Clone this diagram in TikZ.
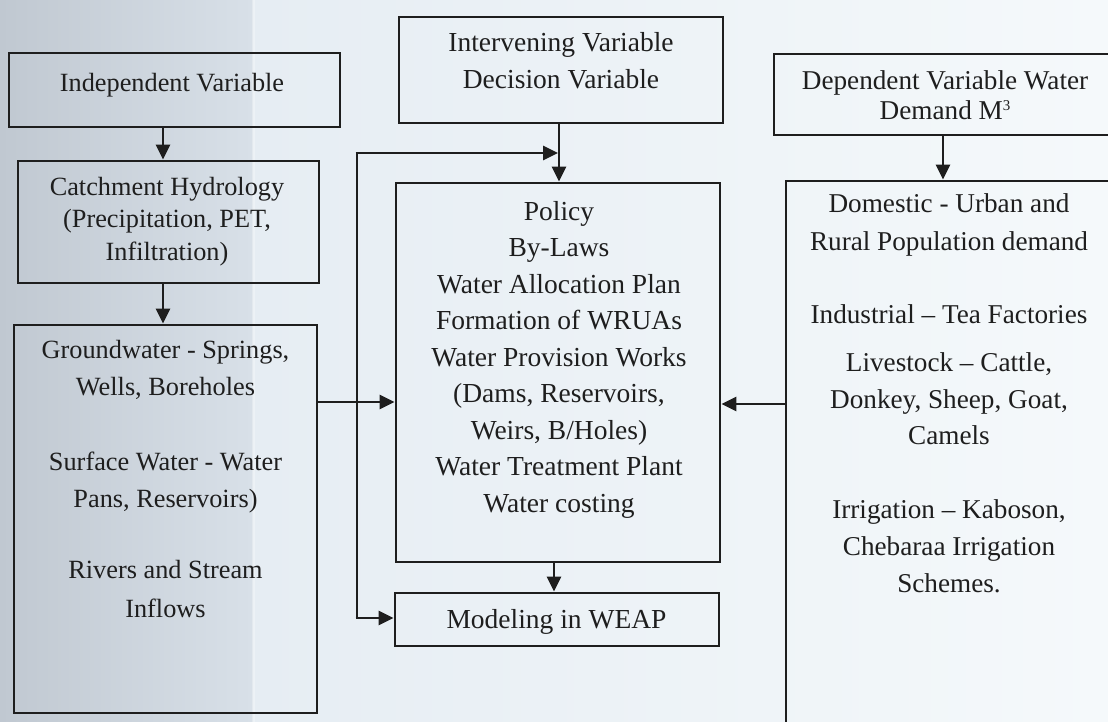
\documentclass[tikz,border=0pt]{standalone}
\usepackage{fontspec}
\setmainfont{Liberation Serif}
\usetikzlibrary{arrows.meta}
\definecolor{ink}{HTML}{1E1E1E}
\definecolor{bgL1}{HTML}{C0C8D1}
\definecolor{bgL2}{HTML}{D8E0E8}
\definecolor{bgR1}{HTML}{E6EDF3}
\definecolor{bgR2}{HTML}{F5F9FB}
\tikzset{
  box/.style={draw=ink, line width=2.8pt, rectangle, inner sep=0pt},
  conn/.style={draw=ink, line width=2.6pt},
  arr/.style={conn, -{Triangle[length=15pt,width=14pt]}},
  lt/.style={text=ink, anchor=base, inner sep=0pt, font=\fontsize{26.3}{31}\selectfont},
  mt/.style={text=ink, anchor=base, inner sep=0pt, font=\fontsize{27.5}{33}\selectfont},
  rt/.style={text=ink, anchor=base, inner sep=0pt, font=\fontsize{27.2}{33}\selectfont},
}
\begin{document}
\begin{tikzpicture}[x=1pt,y=-1pt]
\useasboundingbox (0,0) rectangle (1108,722);
\clip (0,0) rectangle (1108,722);
% scanned paper background
\shade[left color=bgR1, right color=bgR2] (253,0) rectangle (1108,722);
\shade[left color=bgL1, right color=bgL2] (0,0) rectangle (253,722);
\fill[white, opacity=0.3] (252,0) rectangle (255,722);

% boxes
\node[box, minimum width=331pt, minimum height=74pt] (ind) at (174.5,90) {};
\node[box, minimum width=301pt, minimum height=122pt] (cat) at (168.5,222) {};
\node[box, minimum width=303pt, minimum height=388pt] (gw) at (165.5,519) {};
\node[box, minimum width=324pt, minimum height=106pt] (int) at (561,70) {};
\node[box, minimum width=324pt, minimum height=379pt] (pol) at (558,372.5) {};
\node[box, minimum width=324pt, minimum height=53pt] (mod) at (557,619.5) {};
\node[box, minimum width=356pt, minimum height=81pt] (dep) at (952,94.5) {};
\node[box, minimum width=344pt, minimum height=560pt] (dem) at (958,461) {};

% texts, left column
\node[lt] (tind) at (172,92) {Independent Variable};
\foreach \y/\t [count=\i] in {196/Catchment Hydrology, 228/{(Precipitation, PET,}, 260/Infiltration)}
  \node[lt] (tcat\i) at (167,\y) {\t};
\foreach \y/\t [count=\i] in {358/{Groundwater - Springs,}, 395/{Wells, Boreholes}, 470/Surface Water - Water, 507/{Pans, Reservoirs)}, 578/Rivers and Stream, 617/Inflows}
  \node[lt] (tgw\i) at (165.5,\y) {\t};

% texts, middle column
\node[mt] (tint1) at (561,52) {Intervening Variable};
\node[mt] (tint2) at (561,89) {Decision Variable};
\foreach \y/\t [count=\i] in {220/Policy, 256.5/By-Laws, 293/Water Allocation Plan, 329.5/Formation of WRUAs, 366/Water Provision Works, 402.5/{(Dams, Reservoirs,}, 439/{Weirs, B/Holes)}, 475.5/Water Treatment Plant, 512/Water costing}
  \node[mt] (tpol\i) at (559,\y) {\t};
\node[mt] (tmod) at (556.5,628) {Modeling in WEAP};

% texts, right column
\node[rt] (tdep1) at (945,90) {Dependent Variable Water};
\node[rt] (tdep2) at (945,120) {Demand M\raisebox{9pt}{\fontsize{15}{15}\selectfont 3}};
\foreach \y/\t [count=\i] in {213/Domestic - Urban and, 250/Rural Population demand, 323/Industrial – Tea Factories, 371/{Livestock – Cattle,}, 408/{Donkey, Sheep, Goat,}, 444/Camels, 518/{Irrigation – Kaboson,}, 555/Chebaraa Irrigation, 592/Schemes.}
  \node[rt] (tdem\i) at (949,\y) {\t};

% connector guides
\coordinate (xa) at (163,0);
\coordinate (xb) at (559,0);
\coordinate (xc) at (558,0);
\coordinate (xd) at (554,0);
\coordinate (xe) at (943,0);
\coordinate (ya) at (0,402);
\coordinate (yb) at (0,404);
\coordinate (j1) at (357,153);
\coordinate (j2) at (357,618);

% connectors
\draw[arr] (ind.south -| xa) -- (cat.north -| xa);
\draw[arr] (cat.south -| xa) -- (gw.north -| xa);
\draw[arr] (int.south -| xb) -- (pol.north -| xb);
\draw[conn] (j1) -- (j2);
\draw[arr] ([xshift=-1.3pt]j1) -- (j1 -| xc);
\draw[arr] ([xshift=-1.3pt]j2) -- (mod.west |- j2);
\draw[arr] (gw.east |- ya) -- (pol.west |- ya);
\draw[arr] (pol.south -| xd) -- (mod.north -| xd);
\draw[arr] (dep.south -| xe) -- (dem.north -| xe);
\draw[arr] (dem.west |- yb) -- (pol.east |- yb);
\end{tikzpicture}
\end{document}
